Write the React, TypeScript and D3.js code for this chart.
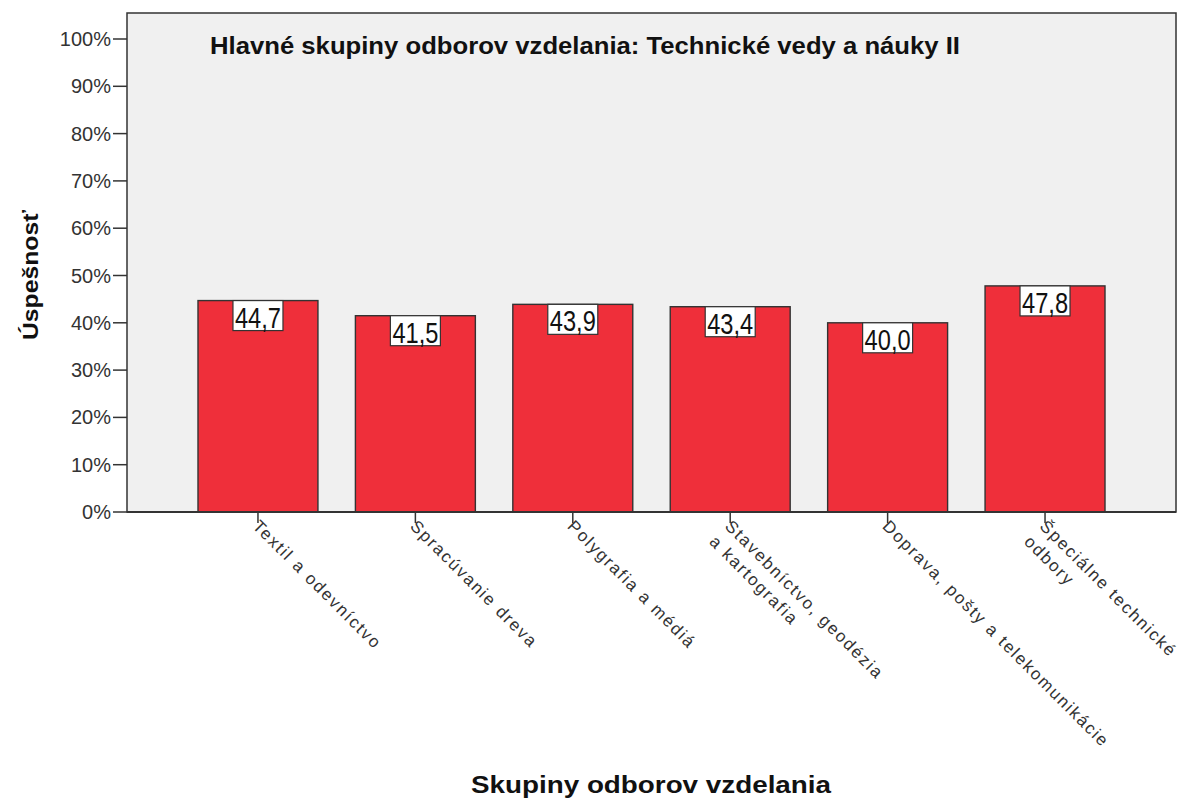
import React from "react";
import * as d3 from "d3";

const categories: string[][] = [
  ["Textil a odevníctvo"],
  ["Spracúvanie dreva"],
  ["Polygrafia a médiá"],
  ["Stavebníctvo, geodézia", "a kartografia"],
  ["Doprava, pošty a telekomunikácie"],
  ["Špeciálne technické", "odbory"],
];
const values: number[] = [44.7, 41.5, 43.9, 43.4, 40.0, 47.8];
const yTicks: number[] = [0, 10, 20, 30, 40, 50, 60, 70, 80, 90, 100];

const title = "Hlavné skupiny odborov vzdelania: Technické vedy a náuky II";
const yTitle = "Úspešnosť";
const xTitle = "Skupiny odborov vzdelania";

const W = 1187;
const H = 798;
const left = 127;
const right = 1176;
const top = 13;
const bottom = 512;
const FONT = "'Liberation Sans', Arial, sans-serif";

export default function App() {
  const keys = categories.map((c) => c.join(" "));
  const x = d3
    .scaleBand<string>()
    .domain(keys)
    .range([left, right])
    .paddingInner(0.238)
    .paddingOuter(0.451);
  const y = d3.scaleLinear().domain([0, 100]).range([bottom, 39]);
  const fmt = (v: number) => v.toFixed(1).replace(".", ",");

  return (
    <svg
      width={W}
      height={H}
      style={{ position: "absolute", left: 0, top: 0, display: "block" }}
      fontFamily={FONT}
    >
      <rect x={0} y={0} width={W} height={H} fill="#ffffff" />
      <rect
        x={left}
        y={top}
        width={right - left}
        height={bottom - top}
        fill="#f0f0f0"
        stroke="#333"
        strokeWidth={1.5}
      />
      <text
        x={210}
        y={54}
        fontSize={23}
        fontWeight="bold"
        fill="#111"
        textLength={750}
        lengthAdjust="spacingAndGlyphs"
      >
        {title}
      </text>

      {yTicks.map((t) => (
        <g key={t}>
          <line x1={113} x2={left} y1={y(t)} y2={y(t)} stroke="#333" strokeWidth={1.5} />
          <text x={111} y={y(t) + 7} textAnchor="end" fontSize={20} fill="#333">
            {t}%
          </text>
        </g>
      ))}

      {values.map((v, i) => {
        const k = keys[i];
        const bx = x(k)!;
        const bw = x.bandwidth();
        const cx = bx + bw / 2;
        return (
          <g key={k}>
            <rect
              x={bx}
              y={y(v)}
              width={bw}
              height={bottom - y(v)}
              fill="#ef2f3a"
              stroke="#333"
              strokeWidth={1.4}
            />
            <rect
              x={cx - 25}
              y={y(v)}
              width={50}
              height={30}
              fill="#ffffff"
              stroke="#333"
              strokeWidth={1.2}
            />
            <text
              x={cx}
              y={y(v) + 27}
              textAnchor="middle"
              fontSize={29}
              fill="#111"
              textLength={46}
              lengthAdjust="spacingAndGlyphs"
            >
              {fmt(v)}
            </text>
          </g>
        );
      })}

      <line x1={left} x2={right} y1={bottom} y2={bottom} stroke="#333" strokeWidth={2} />

      {categories.map((lines, i) => {
        const k = keys[i];
        const cx = x(k)! + x.bandwidth() / 2;
        return (
          <g key={k}>
            <line x1={cx} x2={cx} y1={bottom} y2={523} stroke="#333" strokeWidth={1.5} />
            <g transform={`translate(${cx + 3},${518}) rotate(45)`}>
              <text fontSize={17} fill="#333" letterSpacing={1.8}>
                {lines.map((ln, j) => (
                  <tspan key={j} x={0} y={13 + j * 22}>
                    {ln}
                  </tspan>
                ))}
              </text>
            </g>
          </g>
        );
      })}

      <text
        transform={`translate(38,275) rotate(-90)`}
        textAnchor="middle"
        fontSize={22}
        fontWeight="bold"
        fill="#111"
        textLength={130}
        lengthAdjust="spacingAndGlyphs"
      >
        {yTitle}
      </text>
      <text
        x={651}
        y={793}
        textAnchor="middle"
        fontSize={23}
        fontWeight="bold"
        fill="#111"
        textLength={360}
        lengthAdjust="spacingAndGlyphs"
      >
        {xTitle}
      </text>
    </svg>
  );
}
